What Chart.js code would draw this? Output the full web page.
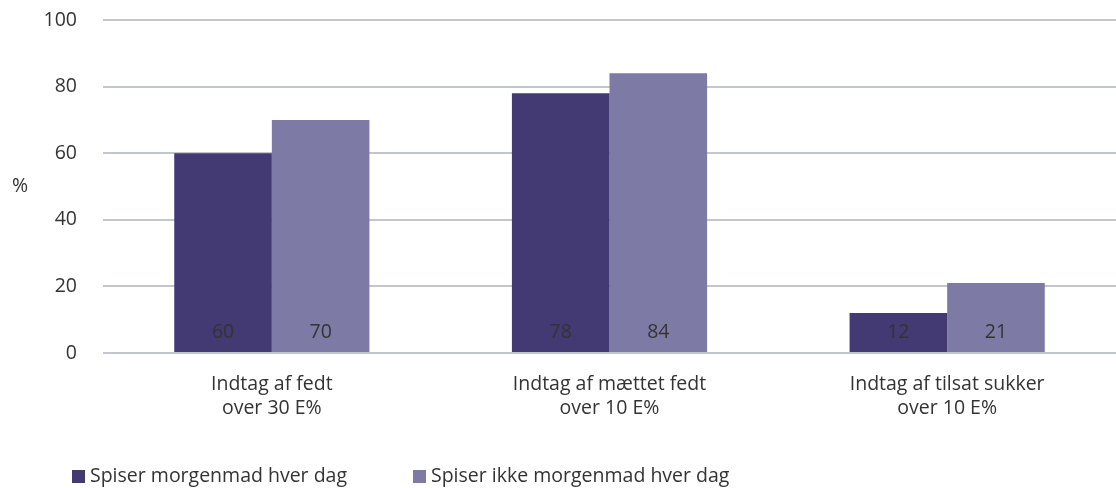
<!DOCTYPE html>
<html><head><meta charset="utf-8">
<style>html,body{margin:0;padding:0;background:#fff;overflow:hidden}</style>
<script src="https://cdn.jsdelivr.net/npm/chart.js@4/dist/chart.umd.min.js"></script>
</head><body>
<canvas id="c" width="1116" height="488"></canvas>
<script>
const categories = [["Indtag af fedt","over 30 E%"],["Indtag af mættet fedt","over 10 E%"],["Indtag af tilsat sukker","over 10 E%"]];
const seriesNames = ["Spiser morgenmad hver dag","Spiser ikke morgenmad hver dag"];
const dailyBreakfast = [60, 78, 12];
const noDailyBreakfast = [70, 84, 21];
const yTicks = [0, 20, 40, 60, 80, 100];
const yUnit = "%";

const FONT = "'Open Sans', sans-serif";
const TEXT = "#333333";
const FS = 19.5;

const extras = {
  id: 'extras',
  afterDatasetsDraw(chart) {
    const ctx = chart.ctx;
    ctx.save();
    ctx.font = FS + "px " + FONT;
    ctx.fillStyle = TEXT;
    ctx.textAlign = "center";
    ctx.textBaseline = "middle";
    chart.data.datasets.forEach((ds, i) => {
      chart.getDatasetMeta(i).data.forEach((bar, j) => {
        ctx.fillText(String(ds.data[j]), bar.x, bar.base - 20);
      });
    });
    const ys = chart.scales.y;
    ctx.fillText(yUnit, 20, ys.getPixelForValue(50));
    // legend
    const xs = [72, 413];
    const ly = 476;
    ctx.textAlign = "left";
    chart.data.datasets.forEach((ds, i) => {
      ctx.fillStyle = ds.backgroundColor;
      ctx.fillRect(xs[i], ly - 6, 13, 13);
      ctx.fillStyle = TEXT;
      ctx.fillText(ds.label, xs[i] + 18, ly);
    });
    ctx.restore();
  }
};

new Chart(document.getElementById('c'), {
  type: 'bar',
  data: {
    labels: categories,
    datasets: [
      { label: seriesNames[0], data: dailyBreakfast, backgroundColor: '#433a73', categoryPercentage: 0.578, barPercentage: 1 },
      { label: seriesNames[1], data: noDailyBreakfast, backgroundColor: '#7d7aa5', categoryPercentage: 0.578, barPercentage: 1 }
    ]
  },
  options: {
    responsive: false,
    animation: false,
    layout: { autoPadding: false, padding: { top: 20, bottom: 60, left: 0, right: 0 } },
    plugins: { legend: { display: false }, tooltip: { enabled: false } },
    scales: {
      x: {
        grid: { display: false, drawTicks: false },
        border: { display: false },
        ticks: { color: TEXT, font: { family: FONT, size: FS, lineHeight: 1.2 }, padding: 20, maxRotation: 0 },
        afterFit(s) { s.height = 75; }
      },
      y: {
        min: 0, max: 100,
        afterBuildTicks(s) { s.ticks = yTicks.map(v => ({ value: v })); },
        grid: { color: '#c3c6ca', lineWidth: 2, drawTicks: false },
        border: { display: false },
        ticks: { color: TEXT, font: { family: FONT, size: FS }, padding: 26 },
        afterFit(s) { s.width = 103; s.paddingTop = 0; s.paddingBottom = 0; }
      }
    }
  },
  plugins: [extras]
});
</script>
</body></html>
